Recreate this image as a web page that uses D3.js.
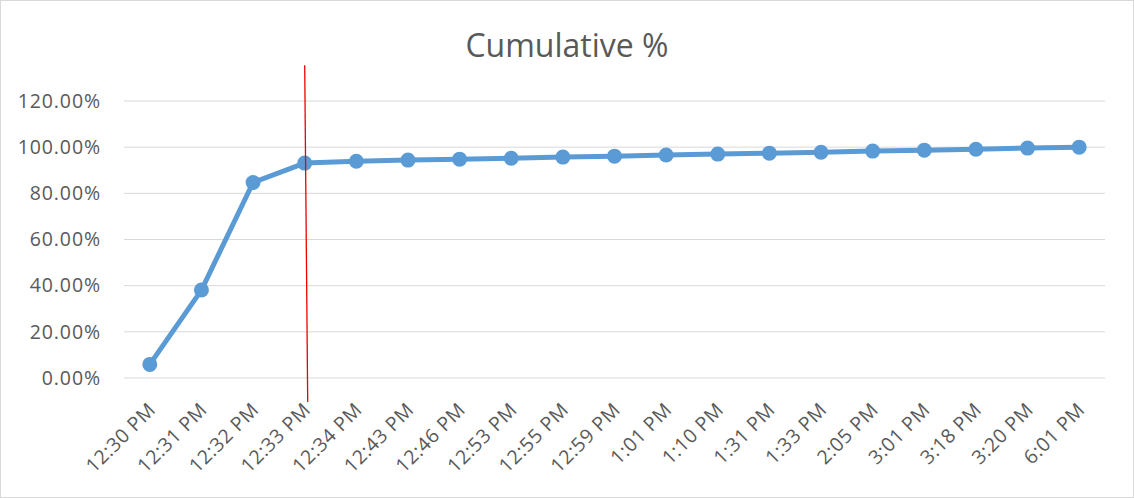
<!DOCTYPE html>
<html>
<head>
<meta charset="utf-8">
<script src="https://cdn.jsdelivr.net/npm/d3@7"></script>
<style>
  body { margin: 0; background: white; }
  #chart { width: 1134px; height: 498px; }
</style>
</head>
<body>
<div id="chart"></div>
<script>
const categories = ["12:30 PM", "12:31 PM", "12:32 PM", "12:33 PM", "12:34 PM", "12:43 PM",
  "12:46 PM", "12:53 PM", "12:55 PM", "12:59 PM", "1:01 PM", "1:10 PM", "1:31 PM",
  "1:33 PM", "2:05 PM", "3:01 PM", "3:18 PM", "3:20 PM", "6:01 PM"];
const cumulative = [5.9, 38.1, 84.7, 93.1, 93.9, 94.4, 94.8, 95.2, 95.7, 96.1, 96.6,
  97.0, 97.4, 97.8, 98.3, 98.7, 99.1, 99.6, 100.0];
const yTicks = [0, 20, 40, 60, 80, 100, 120];
// red marker drawn at this category, spanning these y values
const markerCategory = "12:33 PM";
const markerRange = [135.5, -10.4];

const W = 1134, H = 498;
const margin = { top: 101, right: 29, bottom: 120, left: 124 };
const width = W - margin.left - margin.right,
  height = H - margin.top - margin.bottom;

const svg = d3.select("#chart").append("svg")
  .attr("width", W).attr("height", H);

// outer chart border
svg.append("rect")
  .attr("x", 0.5).attr("y", 0.5)
  .attr("width", W - 1).attr("height", H - 1)
  .attr("fill", "white").attr("stroke", "#d9d9d9");

svg.append("text")
  .attr("x", 567).attr("y", 57)
  .attr("text-anchor", "middle")
  .attr("font-family", "'Open Sans', sans-serif")
  .attr("font-size", 32)
  .attr("fill", "#595959")
  .text("Cumulative %");

const g = svg.append("g").attr("transform", `translate(${margin.left},${margin.top})`);

const x = d3.scaleBand().domain(categories).range([0, width]);
const y = d3.scaleLinear().domain([0, 120]).range([height, 0]);

// gridlines
g.append("g").selectAll("line").data(yTicks).enter().append("line")
  .attr("x1", 0).attr("x2", width)
  .attr("y1", d => y(d)).attr("y2", d => y(d))
  .attr("stroke", "#d9d9d9").attr("stroke-width", 1);

// y axis labels
const yAxis = g.append("g")
  .call(d3.axisLeft(y).tickValues(yTicks).tickSize(0).tickPadding(23)
    .tickFormat(d => d.toFixed(2) + "%"));
yAxis.select(".domain").remove();
yAxis.selectAll("text")
  .attr("font-family", "'Open Sans', sans-serif")
  .attr("font-size", 19.5)
  .attr("letter-spacing", 0.9)
  .attr("fill", "#595959");

// x axis labels
const xAxis = g.append("g")
  .attr("transform", `translate(0,${height})`)
  .call(d3.axisBottom(x).tickSize(0).tickPadding(0));
xAxis.select(".domain").remove();
xAxis.selectAll("text")
  .attr("font-family", "'Open Sans', sans-serif")
  .attr("font-size", 19.5)
  .attr("letter-spacing", 0.6)
  .attr("fill", "#595959")
  .attr("text-anchor", "end")
  .attr("dy", 0)
  .attr("transform", "translate(7,33) rotate(-45)");

const cx = d => x(d) + x.bandwidth() / 2;

// series line
const line = d3.line()
  .x((d, i) => cx(categories[i]))
  .y(d => y(d));

g.append("path")
  .datum(cumulative)
  .attr("fill", "none")
  .attr("stroke", "#5b9bd5")
  .attr("stroke-width", 5)
  .attr("stroke-linejoin", "round")
  .attr("d", line);

g.selectAll(".dot").data(cumulative).enter().append("circle")
  .attr("class", "dot")
  .attr("cx", (d, i) => cx(categories[i]))
  .attr("cy", d => y(d))
  .attr("r", 7.5)
  .attr("fill", "#5b9bd5");

// red marker line
g.append("line")
  .attr("x1", cx(markerCategory)).attr("x2", cx(markerCategory) + 3)
  .attr("y1", y(markerRange[0])).attr("y2", y(markerRange[1]))
  .attr("stroke", "#ee0000").attr("stroke-width", 1.3);
</script>
</body>
</html>
